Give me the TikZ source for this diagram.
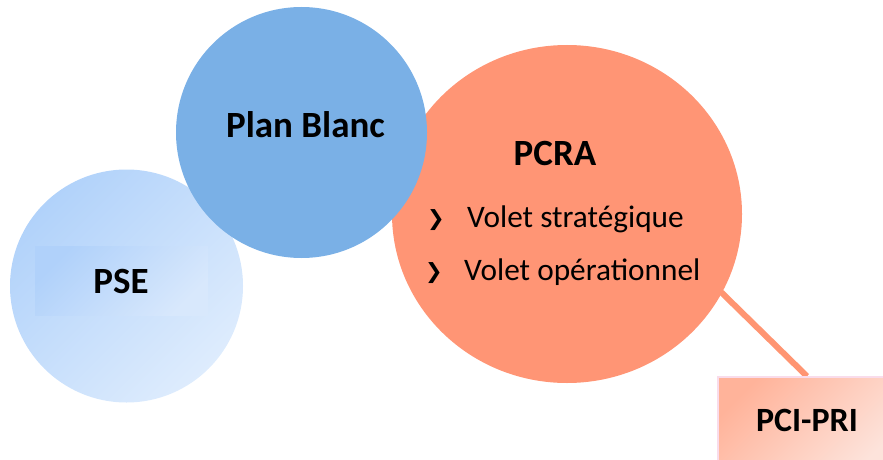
\documentclass[tikz,border=0pt]{standalone}
\usepackage{fontspec}
\setmainfont{Carlito}
\newfontfamily\dejavusym{DejaVu Sans}
\usetikzlibrary{shapes.geometric,calc,backgrounds}
\definecolor{pseA}{HTML}{B1D2FA}
\definecolor{pseB}{HTML}{DEECFD}
\definecolor{pseRA}{HTML}{B0D1FA}
\definecolor{pseRB}{HTML}{D8E8FC}
\definecolor{planblue}{HTML}{7AB0E6}
\definecolor{pcraorange}{HTML}{FF9575}
\definecolor{linkorange}{HTML}{FF9572}
\definecolor{pciA}{HTML}{FFB39A}
\definecolor{pciB}{HTML}{FDE3DB}
\definecolor{pciborder}{HTML}{F9DCEB}
\tikzset{
  titletext/.style={inner sep=0pt, font=\fontsize{37}{40}\selectfont\bfseries, text=black},
  itemtext/.style={inner sep=0pt, font=\fontsize{31.3}{36}\selectfont, text=black},
  bullettext/.style={inner sep=0pt, font=\dejavusym\fontsize{21}{24}\selectfont, text=black},
  link/.style={draw=linkorange, line width=6pt},
}
\begin{document}
\begin{tikzpicture}[x=1pt,y=1pt]
\useasboundingbox (0,0) rectangle (883,-460);
\clip (0,0) rectangle (883,-460);
% PCI-PRI box
\node[draw=pciborder, line width=1.5pt, top color=pciA, bottom color=pciB, shading angle=45,
      minimum width=178pt, minimum height=94pt, inner sep=0pt] (pci) at (807,-424) {};
% PCRA ellipse
\node[ellipse, fill=pcraorange, minimum width=350pt, minimum height=338pt, inner sep=0pt] (pcra) at (567,-214) {};
% connector
\begin{scope}[on background layer]
\draw[link, shorten <=-20pt] (pcra.-27) -- (pci.north);
\end{scope}
% PSE circle
\node[circle, top color=pseA, bottom color=pseB, shading angle=45, minimum size=233pt, inner sep=0pt] (pse) at (126.5,-286) {};
\node[top color=pseRA, bottom color=pseRB, shading angle=45, minimum width=173pt, minimum height=69pt, inner sep=0pt] (pserect) at (121.5,-280.5) {};
% Plan Blanc circle
\node[circle, fill=planblue, minimum size=251pt, inner sep=0pt] (plan) at (301.5,-132.5) {};
% texts
\node[titletext, anchor=base] (plantext) at (305.5,-137) {Plan Blanc};
\node[titletext, anchor=base] (psetext) at (121,-293) {PSE};
\node[titletext, anchor=base] (pcratext) at (555,-165) {PCRA};
\node[titletext, font=\fontsize{34}{40}\selectfont\bfseries, anchor=base] (pcitext) at (807,-431) {PCI-PRI};
\node[bullettext, anchor=base west] (b1) at (427,-225) {❯};
\node[itemtext, anchor=base west] (t1) at (467,-227) {Volet stratégique};
\node[bullettext, anchor=base west] (b2) at (425,-278) {❯};
\node[itemtext, anchor=base west] (t2) at (464,-280) {Volet opérationnel};
\end{tikzpicture}
\end{document}
